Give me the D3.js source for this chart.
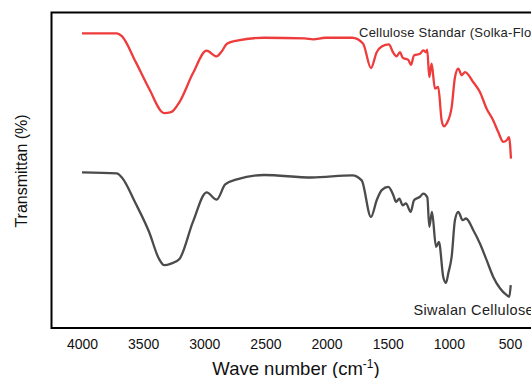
<!DOCTYPE html>
<html>
<head>
<meta charset="utf-8">
<script src="https://cdn.jsdelivr.net/npm/d3@7"></script>
<style>
  body { margin: 0; background: #fff; }
  svg { display: block; font-family: Arial, "Liberation Sans", sans-serif; }
</style>
</head>
<body>
<div id="chart"></div>
<script>
// ---- data (arbitrary transmittance units, 0-100 over the frame)
const seriesNames = ["Cellulose Standar (Solka-Floc)", "Siwalan Cellulose"];
const xTicks = [4000, 3500, 3000, 2500, 2000, 1500, 1000, 500];

const waveStd = [4000, 3715, 3674, 3563, 3452, 3328, 3272, 3203, 3092, 2981, 2899, 2857, 2815, 2733,
  2511, 2178, 2109, 2012, 1790, 1702, 1637, 1590, 1549, 1490, 1457, 1427, 1400, 1378, 1353, 1332,
  1310, 1285, 1236, 1209, 1187, 1177, 1160, 1141, 1114, 1087, 1059, 1040, 1018, 977, 950, 923,
  895, 868, 800, 746, 691, 637, 596, 555, 527, 508, 492];
const transStd = [93.4, 93.4, 92.5, 84.5, 75.9, 68.1, 68.4, 71.6, 80.8, 87.9, 86.1, 87.7, 90.1, 91.1,
  92.0, 91.8, 91.5, 92.0, 92.0, 90.2, 82.4, 87.4, 89.2, 89.9, 87.4, 86.1, 87.4, 85.7, 85.3, 85.0,
  83.4, 86.4, 86.9, 88.0, 87.4, 88.2, 79.5, 83.8, 75.9, 76.4, 65.8, 63.9, 64.8, 70.0, 79.5, 82.2,
  80.1, 81.1, 77.9, 74.8, 69.5, 65.8, 62.1, 59.0, 59.5, 60.5, 53.7];

const waveSiw = [4000, 3715, 3674, 3563, 3452, 3370, 3328, 3272, 3203, 3092, 2981, 2899, 2829, 2733,
  2511, 2123, 1790, 1713, 1637, 1590, 1549, 1495, 1454, 1432, 1405, 1378, 1351, 1312, 1285, 1236,
  1209, 1176, 1160, 1138, 1105, 1081, 1046, 1023, 1005, 977, 950, 923, 887, 860, 800, 746,
  691, 637, 582, 527, 506, 494];
const transSiw = [49.3, 49.0, 47.7, 39.6, 30.5, 21.9, 19.9, 20.4, 21.9, 33.7, 43.0, 40.7, 45.5, 47.1,
  48.5, 47.7, 48.4, 46.8, 35.2, 40.5, 43.7, 44.7, 42.1, 40.0, 41.0, 38.9, 39.5, 36.8, 40.5, 41.6,
  42.6, 41.4, 32.1, 36.8, 25.7, 27.3, 16.2, 14.3, 17.3, 22.6, 34.2, 36.8, 34.2, 34.7, 31.0, 26.8,
  21.5, 16.2, 12.6, 10.4, 9.9, 13.6];

const width = 531, height = 378;
const frame = { left: 51.5, top: 12.5, right: 545, bottom: 328 };

const svg = d3.select("#chart").append("svg")
  .attr("width", width)
  .attr("height", height);

const x = d3.scaleLinear().domain([4000, 500]).range([82, 510]);
const y = d3.scaleLinear().domain([0, 100]).range([frame.bottom, frame.top]);

// frame (right side runs off the picture)
svg.append("rect")
  .attr("x", frame.left)
  .attr("y", frame.top)
  .attr("width", frame.right - frame.left)
  .attr("height", frame.bottom - frame.top)
  .attr("fill", "none")
  .attr("stroke", "#000")
  .attr("stroke-width", 2);

// x axis labels only
const xAxis = d3.axisBottom(x).tickValues(xTicks).tickSize(0).tickPadding(11.5).tickFormat(d3.format("d"));
const gx = svg.append("g")
  .attr("transform", `translate(0,${frame.bottom})`)
  .call(xAxis);
gx.select(".domain").remove();
gx.selectAll("text")
  .attr("font-size", 14)
  .attr("font-family", "Arial, 'Liberation Sans', sans-serif")
  .attr("fill", "#111");

// curves
const line = d3.line()
  .x(d => x(d[0]))
  .y(d => y(d[1]))
  .curve(d3.curveMonotoneX);

svg.append("path")
  .datum(d3.zip(waveStd, transStd))
  .attr("d", line)
  .attr("fill", "none")
  .attr("stroke", "#ee3b3b")
  .attr("stroke-width", 2.3)
  .attr("stroke-linejoin", "round");

svg.append("path")
  .datum(d3.zip(waveSiw, transSiw))
  .attr("d", line)
  .attr("fill", "none")
  .attr("stroke", "#4b4b4b")
  .attr("stroke-width", 2.3)
  .attr("stroke-linejoin", "round");

// series labels (both run past the right edge, as in the original)
svg.append("text")
  .attr("x", 359)
  .attr("y", 36.5)
  .attr("font-size", 13)
  .attr("letter-spacing", 0.25)
  .attr("fill", "#222")
  .text(seriesNames[0]);

svg.append("text")
  .attr("x", 413.5)
  .attr("y", 315)
  .attr("font-size", 14.5)
  .attr("letter-spacing", 0.35)
  .attr("fill", "#222")
  .text(seriesNames[1]);

// axis titles
const xt = svg.append("text")
  .attr("x", 296)
  .attr("y", 375)
  .attr("text-anchor", "middle")
  .attr("font-size", 18.5)
  .attr("fill", "#111");
xt.append("tspan").text("Wave number (cm");
xt.append("tspan").attr("font-size", 12).attr("dy", -7.5).text("-1");
xt.append("tspan").attr("dy", 7.5).text(")");

svg.append("text")
  .attr("transform", `translate(27,171) rotate(-90)`)
  .attr("text-anchor", "middle")
  .attr("font-size", 16)
  .attr("fill", "#111")
  .text("Transmittan (%)");
</script>
</body>
</html>
